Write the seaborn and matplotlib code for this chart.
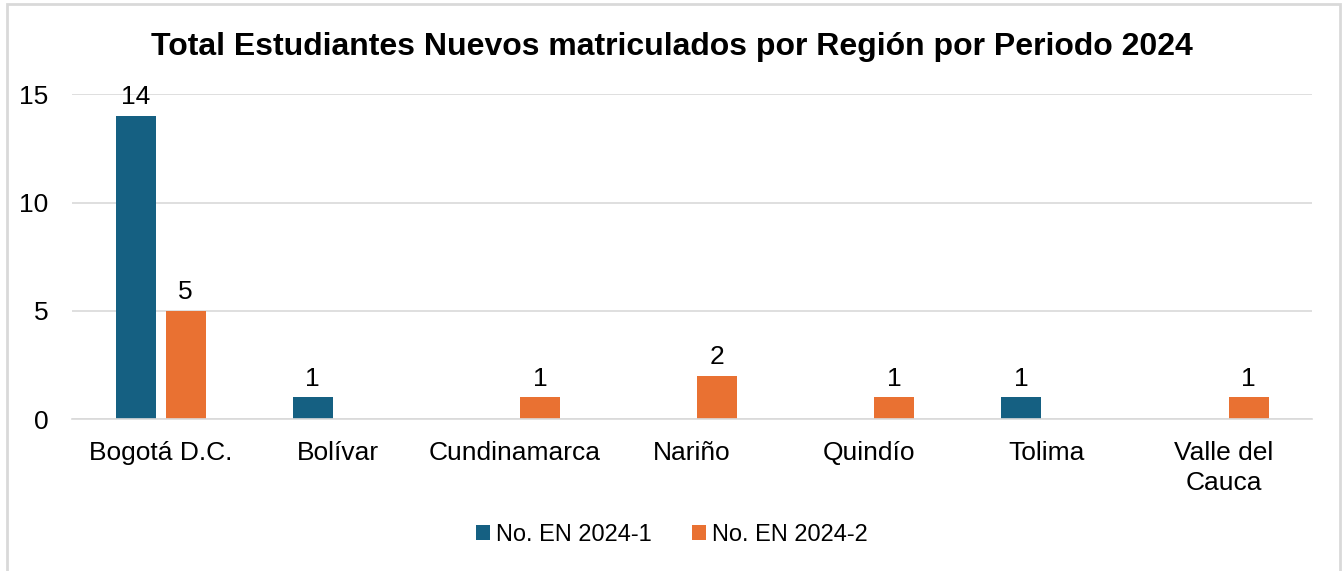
import matplotlib.pyplot as plt
import seaborn as sns
import pandas as pd
from matplotlib.patches import Rectangle

regiones = ["Bogotá D.C.", "Bolívar", "Cundinamarca", "Nariño", "Quindío", "Tolima", "Valle del\nCauca"]
periodos = ["No. EN 2024-1", "No. EN 2024-2"]
en_2024_1 = [14, 1, 0, 0, 0, 1, 0]
en_2024_2 = [5, 0, 1, 2, 1, 0, 1]
colores = ["#156082", "#E97132"]

df = pd.DataFrame({
    "Region": regiones * 2,
    "Periodo": [periodos[0]] * len(regiones) + [periodos[1]] * len(regiones),
    "Valor": en_2024_1 + en_2024_2,
})

sns.set_style("white")
plt.rcParams['font.family'] = ['Liberation Sans', 'DejaVu Sans']
plt.rcParams['text.color'] = 'black'

fig = plt.figure(figsize=(13.43, 5.71), dpi=100)
ax = fig.add_axes([0.0536, 0.266, 0.9234, 0.569])

sns.barplot(data=df, x="Region", y="Valor", hue="Periodo", palette=colores,
            saturation=1, width=0.565, gap=0.2, linewidth=0, ax=ax, legend=True)

for cont in ax.containers:
    labels = [f"{int(v)}" if v > 0 else "" for v in cont.datavalues]
    ax.bar_label(cont, labels=labels, padding=5, fontsize=19, color="#000000")

ax.set_ylim(0, 15)
ax.set_yticks([0, 5, 10, 15])
ax.yaxis.grid(True, color="#D9D9D9", linewidth=1.2)
ax.set_axisbelow(True)
ax.set_xlabel("")
ax.set_ylabel("")
ax.tick_params(axis="both", labelsize=19, length=0, colors="#000000")
ax.tick_params(axis="y", pad=17)
ax.tick_params(axis="x", pad=16)
ax.set_xticks(range(len(regiones)))
ax.set_xticklabels(regiones, linespacing=1.3)
for s in ["left", "right", "top"]:
    ax.spines[s].set_visible(False)
ax.spines["bottom"].set_color("#D9D9D9")
ax.spines["bottom"].set_linewidth(1.2)

fig.text(0.5, 0.917, "Total Estudiantes Nuevos matriculados por Región por Periodo 2024",
         fontsize=23, fontweight="bold", ha="center", va="center", color="black")

# legend centred on the figure, not on the axes
handles, labels = ax.get_legend_handles_labels()
ax.get_legend().remove()
leg = fig.legend(handles, labels, loc="center", bbox_to_anchor=(0.5, 0.063), ncol=2,
                 frameon=False, fontsize=17, handlelength=0.6, handleheight=0.6,
                 handletextpad=0.25, columnspacing=1.7)
for t in leg.get_texts():
    t.set_color("black")

fig.patches.append(Rectangle((0.005, -0.05), 0.993, 1.043, transform=fig.transFigure,
                             fill=False, edgecolor="#D9D9D9", linewidth=2))

fig.savefig("out.png", dpi=100)
